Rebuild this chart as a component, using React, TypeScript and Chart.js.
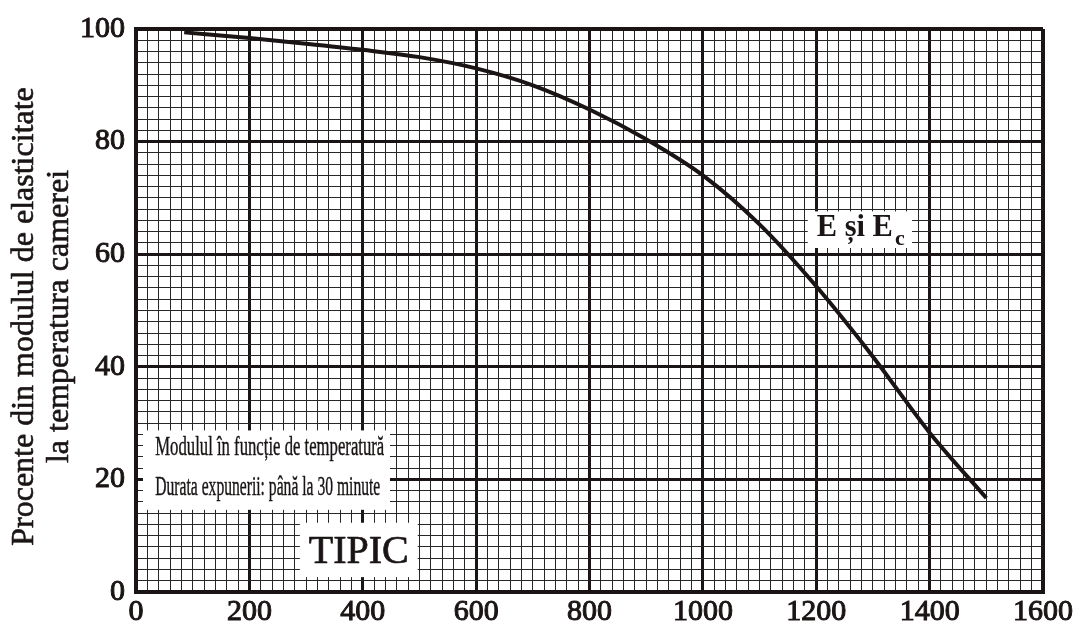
import React, { useEffect, useRef } from "react";
import { Chart, registerables } from "chart.js";

Chart.register(...registerables);

// Temperature (x) and percent of room-temperature modulus (y)
const temperatures = [85, 200, 300, 400, 500, 600, 700, 800, 900, 1000, 1100, 1200, 1300, 1400, 1500];
const percents = [99.4, 98.4, 97.4, 96.3, 95.0, 93.0, 90.0, 85.7, 80.4, 74.0, 65.3, 54.3, 41.8, 28.3, 16.7];

const xMajor = 200;
const yMajor = 20;
const xTickLabels = ["0", "200", "400", "600", "800", "1000", "1200", "1400", "1600"];
const yTickLabels = ["0", "20", "40", "60", "80", "100"];

const yTitleLines = ["Procente din modulul de elasticitate", "la temperatura camerei"];
const noteLines = ["Modulul în funcție de temperatură", "Durata expunerii: până la 30 minute"];
const typicalLabel = "TIPIC";
const curveLabel = "E și E";
const curveLabelSub = "c";

const FONT = "'Liberation Serif', 'Times New Roman', serif";
const INK = "#1a1414";

function inkText(ctx: CanvasRenderingContext2D, text: string, x: number, y: number, stroke: number, width?: number) {
  const w = ctx.measureText(text).width;
  const sx = width ? Math.min(1, width / w) : 1;
  ctx.save();
  ctx.translate(x, y);
  ctx.scale(sx, 1);
  ctx.fillText(text, 0, 0);
  if (stroke > 0) {
    ctx.lineWidth = stroke;
    ctx.strokeStyle = INK;
    ctx.lineJoin = "round";
    ctx.strokeText(text, 0, 0);
  }
  ctx.restore();
}

export default function App() {
  const ref = useRef<HTMLCanvasElement | null>(null);

  useEffect(() => {
    document.body.style.margin = "0";
    const canvas = ref.current;
    if (!canvas) return;

    const annotations = {
      id: "annotations",
      afterDatasetsDraw(chart: any) {
        const ctx = chart.ctx;
        const xs = chart.scales.x;
        const ys = chart.scales.y;
        const px = (v: number) => xs.getPixelForValue(v);
        const py = (v: number) => ys.getPixelForValue(v);
        ctx.save();
        ctx.fillStyle = "#fff";
        ctx.fillRect(px(12.3), py(28.7), px(448) - px(12.3), py(14.6) - py(28.7));
        ctx.fillRect(px(289), py(12.3), px(497) - px(289), py(2.64) - py(12.3));
        ctx.fillRect(px(1185), py(67.6), px(1369) - px(1185), py(61.1) - py(67.6));

        ctx.fillStyle = INK;
        ctx.textBaseline = "alphabetic";
        ctx.textAlign = "left";
        ctx.font = `27px ${FONT}`;
        inkText(ctx, noteLines[0], px(34), py(24.3), 0.4, 229);
        inkText(ctx, noteLines[1], px(34), py(17.25), 0.4, 225);

        ctx.font = `40px ${FONT}`;
        ctx.textAlign = "center";
        inkText(ctx, typicalLabel, px(393), py(5.1), 0.7);

        ctx.textAlign = "left";
        ctx.font = `bold 32px ${FONT}`;
        inkText(ctx, curveLabel, px(1201), py(63.2), 0, 76);
        ctx.font = `bold 22px ${FONT}`;
        inkText(ctx, curveLabelSub, px(1339), py(61.6), 0);
        ctx.restore();

        // y-axis title (two centred lines, rotated)
        const midY = (chart.chartArea.top + chart.chartArea.bottom) / 2 + 6;
        ctx.save();
        ctx.fillStyle = INK;
        ctx.font = `32px ${FONT}`;
        ctx.textAlign = "center";
        ctx.textBaseline = "alphabetic";
        const baselines = [33, 68];
        yTitleLines.forEach((line, i) => {
          ctx.save();
          ctx.translate(baselines[i], midY);
          ctx.rotate(-Math.PI / 2);
          inkText(ctx, line, 0, 0, 0.6);
          ctx.restore();
        });
        ctx.restore();
      },
    };

    const chart = new Chart(canvas, {
      type: "line",
      data: {
        datasets: [
          {
            data: temperatures.map((t, i) => ({ x: t, y: percents[i] })),
            borderColor: INK,
            borderWidth: 4,
            pointRadius: 0,
            cubicInterpolationMode: "monotone",
            fill: false,
          },
        ],
      },
      options: {
        responsive: false,
        animation: false,
        layout: { padding: { top: 24, right: 33, left: 0, bottom: 0 } },
        plugins: { legend: { display: false }, tooltip: { enabled: false } },
        scales: {
          x: {
            type: "linear",
            min: 0,
            max: 1600,
            afterFit: (s: any) => {
              s.height = 36;
            },
            ticks: {
              stepSize: 20,
              autoSkip: false,
              maxRotation: 0,
              minRotation: 0,
              padding: 2,
              color: INK,
              textStrokeColor: INK,
              textStrokeWidth: 1,
              font: { family: FONT, size: 30 },
              callback: (v: any) => {
                const n = Math.round(Number(v));
                return n % xMajor === 0 ? xTickLabels[n / xMajor] : "";
              },
            },
            grid: {
              drawTicks: false,
              color: (c: any) => {
                const n = Math.round(c.tick?.value ?? 0);
                return n % xMajor === 0 ? INK : "#262626";
              },
              lineWidth: (c: any) => {
                const n = Math.round(c.tick?.value ?? 0);
                if (n === 1600) return 4;
                return n % xMajor === 0 ? 3 : 1;
              },
            },
            border: { width: 4, color: INK },
          },
          y: {
            type: "linear",
            min: 0,
            max: 100,
            afterFit: (s: any) => {
              s.width = 136;
            },
            ticks: {
              stepSize: 2,
              autoSkip: false,
              padding: 11,
              color: INK,
              textStrokeColor: INK,
              textStrokeWidth: 1,
              font: { family: FONT, size: 30 },
              callback: (v: any) => {
                const n = Math.round(Number(v));
                return n % yMajor === 0 ? yTickLabels[n / yMajor] : "";
              },
            },
            grid: {
              drawTicks: false,
              color: (c: any) => {
                const n = Math.round(c.tick?.value ?? 0);
                return n % yMajor === 0 ? INK : "#262626";
              },
              lineWidth: (c: any) => {
                const n = Math.round(c.tick?.value ?? 0);
                if (n === 100) return 4;
                return n % yMajor === 0 ? 3 : 1;
              },
            },
            border: { width: 4, color: INK },
          },
        },
      },
      plugins: [annotations],
    } as any);

    return () => chart.destroy();
  }, []);

  return (
    <div style={{ width: 1076, height: 628 }}>
      <canvas ref={ref} width={1076} height={628} style={{ display: "block" }} />
    </div>
  );
}
